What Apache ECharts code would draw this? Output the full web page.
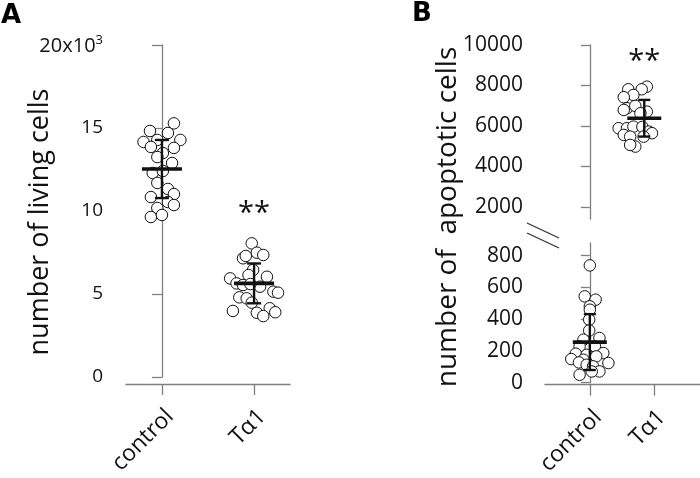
<!DOCTYPE html>
<html>
<head>
<meta charset="utf-8">
<script src="https://cdn.jsdelivr.net/npm/echarts@6/dist/echarts.min.js"></script>
<style>
  html, body { margin: 0; padding: 0; background: #fff; }
  #main { width: 700px; height: 478px; }
</style>
</head>
<body>
<div id="main"></div>
<script>
// categories
var groups = ["control", "Tα1"];

// panel A: living cells (x10^3), points are [jitter, value]
var livingControl = [
  [0.13, 15.28], [-0.13, 14.82], [0.065, 14.70], [-0.20, 14.16], [0.20, 14.28],
  [-0.05, 14.28], [-0.12, 13.86], [0.13, 13.80], [0.01, 13.49], [-0.05, 13.25],
  [0.11, 12.89], [-0.10, 12.29], [0.01, 12.41], [-0.05, 11.69], [0.065, 11.33],
  [0.13, 11.02], [-0.12, 10.84], [0.065, 10.54], [0.13, 10.36], [-0.05, 10.18],
  [-0.12, 9.64], [0.0, 9.76]
];
var livingTa1 = [
  [-0.025, 8.05], [0.03, 7.49], [0.10, 7.35], [-0.12, 7.15], [-0.09, 7.29],
  [-0.01, 6.45], [-0.26, 5.94], [-0.06, 6.14], [0.14, 6.04], [-0.19, 5.64],
  [-0.12, 5.54], [0.065, 5.44], [-0.04, 5.60], [0.21, 5.14], [0.26, 5.08],
  [-0.16, 4.80], [-0.08, 4.74], [-0.025, 4.48], [-0.23, 3.98], [0.03, 3.87],
  [0.17, 4.14], [0.23, 3.90], [0.10, 3.67]
];
var livingMean = [12.53, 5.64];
var livingSd = [1.75, 1.2];
var livingBarX = [0, 1];
var livingTicks = [0, 5, 10, 15, 20];

// panel B: apoptotic cells
var apoControl = [
  [0, 739], [-0.08, 544], [0.09, 523], [0, 481], [0.0, 460], [-0.01, 397],
  [-0.01, 329], [0.15, 282], [-0.10, 271], [-0.16, 229], [0.08, 229],
  [-0.22, 183], [0.21, 187], [-0.05, 176], [0.10, 166], [-0.29, 149],
  [-0.10, 145], [-0.17, 128], [0.29, 124], [-0.05, 113], [0.05, 103],
  [0.15, 71], [-0.16, 50], [0.03, 71]
];
var apoTa1 = [
  [0.04, 7941], [-0.04, 7812], [-0.25, 7812], [-0.17, 7531], [-0.32, 7418],
  [-0.27, 6874], [-0.14, 6990], [0.04, 6707], [-0.06, 6627], [-0.32, 6790],
  [-0.40, 5886], [-0.27, 5886], [-0.17, 5966], [-0.03, 5950], [0.07, 5719],
  [0.12, 5640], [-0.32, 5556], [-0.22, 5472], [-0.01, 5472], [-0.14, 4978],
  [-0.22, 5062]
];
var apoMean = [256, 6380];
var apoSd = [176, 906];
var apoBarX = [0, 0.85];
var apoTicksLow = [0, 200, 400, 600, 800];
var apoTicksHigh = [2000, 4000, 6000, 8000, 10000];

var starA = [[1, 9.85]];
var starB = [[0.85, 9150]];

var FONT = "Open Sans";
var TXT = "#111";
var AX = "#7f7f7f";

function shift(points, base) {
  return points.map(function (p) { return [base + p[0], p[1]]; });
}

function yAxisBase(extra) {
  var a = {
    type: "value",
    axisLine: { show: true, lineStyle: { color: AX, width: 1.3 } },
    splitLine: { show: false }
  };
  for (var k in extra) a[k] = extra[k];
  return a;
}

function xAxisBase(extra) {
  var a = {
    type: "value",
    axisLine: { show: true, onZero: false, lineStyle: { color: AX, width: 1.3 } },
    axisTick: { show: true, length: 11, customValues: [0, 1], lineStyle: { color: AX, width: 1.3 } },
    axisLabel: {
      show: true, customValues: [0, 1], rotate: 45, margin: 21, verticalAlign: "top",
      color: TXT, fontFamily: FONT, fontSize: 23,
      formatter: function (v) { return groups[Math.round(v)]; }
    },
    splitLine: { show: false }
  };
  for (var k in extra) a[k] = extra[k];
  return a;
}

function dots(xi, yi, data) {
  return {
    type: "scatter", xAxisIndex: xi, yAxisIndex: yi, data: data,
    symbol: "circle", symbolSize: 11.5, z: 2,
    itemStyle: { color: "#fff", borderColor: "#111", borderWidth: 1, opacity: 1 }
  };
}

function bars(xi, yi, xs, means, sds, halfW, capW) {
  var data = xs.map(function (x, i) { return [x, means[i], sds[i]]; });
  return {
    type: "custom", xAxisIndex: xi, yAxisIndex: yi, data: data, z: 5,
    renderItem: function (params, api) {
      var c = api.coord([api.value(0), api.value(1)]);
      var top = api.coord([api.value(0), api.value(1) + api.value(2)]);
      var bot = api.coord([api.value(0), api.value(1) - api.value(2)]);
      var st = { stroke: "#111", lineWidth: 2.4 };
      return {
        type: "group",
        children: [
          { type: "line", shape: { x1: c[0], y1: top[1], x2: c[0], y2: bot[1] }, style: st },
          { type: "line", shape: { x1: c[0] - capW, y1: top[1], x2: c[0] + capW, y2: top[1] }, style: st },
          { type: "line", shape: { x1: c[0] - capW, y1: bot[1], x2: c[0] + capW, y2: bot[1] }, style: st },
          { type: "line", shape: { x1: c[0] - halfW, y1: c[1], x2: c[0] + halfW, y2: c[1] }, style: { stroke: "#111", lineWidth: 3.6 } }
        ]
      };
    }
  };
}

function stars(xi, yi, data) {
  return {
    type: "scatter", xAxisIndex: xi, yAxisIndex: yi, data: data,
    symbolSize: 1, itemStyle: { color: "rgba(0,0,0,0)", opacity: 1 }, z: 6,
    label: { show: true, position: "inside", formatter: "**", color: TXT, fontFamily: FONT, fontSize: 29 }
  };
}

function ticks(vals, len) {
  return { show: true, length: len, customValues: vals, lineStyle: { color: AX, width: 1.3 } };
}

var chart = echarts.init(document.getElementById("main"), null, { renderer: "canvas" });

var option = {
  backgroundColor: "#fff",
  animation: false,
  grid: [
    { left: 126, width: 164, top: 45, height: 332 },
    { left: 545, width: 155, top: 45, height: 174 },
    { left: 545, width: 155, top: 243, height: 140 }
  ],
  xAxis: [
    xAxisBase({ gridIndex: 0, min: -0.39, max: 1.39, offset: 7 }),
    xAxisBase({ gridIndex: 1, min: -0.70, max: 1.72, show: false }),
    xAxisBase({ gridIndex: 2, min: -0.70, max: 1.72, offset: 2 })
  ],
  yAxis: [
    yAxisBase({
      gridIndex: 0, min: 0, max: 20, interval: 5, offset: 4,
      axisLabel: {
        color: TXT, fontFamily: FONT, fontSize: 19, margin: 19,
        customValues: livingTicks,
        formatter: function (v) { return v === 20 ? "{m|20x10}{s|3}" : String(v); },
        rich: {
          m: { color: TXT, fontFamily: FONT, fontSize: 20, lineHeight: 22, verticalAlign: "bottom" },
          s: { color: TXT, fontFamily: FONT, fontSize: 13, lineHeight: 22, verticalAlign: "top", padding: [0, 0, 14, 0] }
        }
      },
      axisTick: ticks(livingTicks, 10)
    }),
    yAxisBase({
      gridIndex: 1, min: 1400, max: 10000, offset: 3,
      axisLabel: { color: TXT, fontFamily: FONT, fontSize: 21, margin: 19, customValues: apoTicksHigh,
        formatter: function (v) { return String(v); } },
      axisTick: ticks(apoTicksHigh, 9)
    }),
    yAxisBase({
      gridIndex: 2, min: 0, max: 880, offset: 3,
      axisLabel: { color: TXT, fontFamily: FONT, fontSize: 21, margin: 19, customValues: apoTicksLow,
        formatter: function (v) { return String(v); } },
      axisTick: ticks(apoTicksLow, 9)
    })
  ],
  graphic: [
    { type: "text", left: 1, top: 3, style: { text: "A", font: "bold 26px 'DejaVu Sans'", fill: "#000" } },
    { type: "text", left: 412, top: 1, style: { text: "B", font: "bold 26px 'DejaVu Sans'", fill: "#000" } },
    {
      type: "text", x: 40, y: 222, rotation: Math.PI / 2,
      style: { text: "number of living cells", font: "27px 'Open Sans'", fill: TXT, align: "center", verticalAlign: "middle" }
    },
    {
      type: "text", x: 448, y: 217, rotation: Math.PI / 2,
      style: { text: "number of  apoptotic cells", font: "28px 'Open Sans'", fill: TXT, align: "center", verticalAlign: "middle" }
    },
    { type: "line", shape: { x1: 527, y1: 223, x2: 559, y2: 238 }, style: { stroke: "#333", lineWidth: 1.3 } },
    { type: "line", shape: { x1: 527, y1: 233, x2: 559, y2: 248 }, style: { stroke: "#333", lineWidth: 1.3 } }
  ],
  series: [
    dots(0, 0, shift(livingControl, 0)),
    dots(0, 0, shift(livingTa1, 1)),
    bars(0, 0, livingBarX, livingMean, livingSd, 20, 7),
    stars(0, 0, starA),
    dots(1, 1, shift(apoTa1, apoBarX[1])),
    bars(1, 1, [apoBarX[1]], [apoMean[1]], [apoSd[1]], 17, 6),
    stars(1, 1, starB),
    dots(2, 2, shift(apoControl, 0)),
    bars(2, 2, [apoBarX[0]], [apoMean[0]], [apoSd[0]], 17, 6)
  ]
};

chart.setOption(option);
</script>
</body>
</html>
